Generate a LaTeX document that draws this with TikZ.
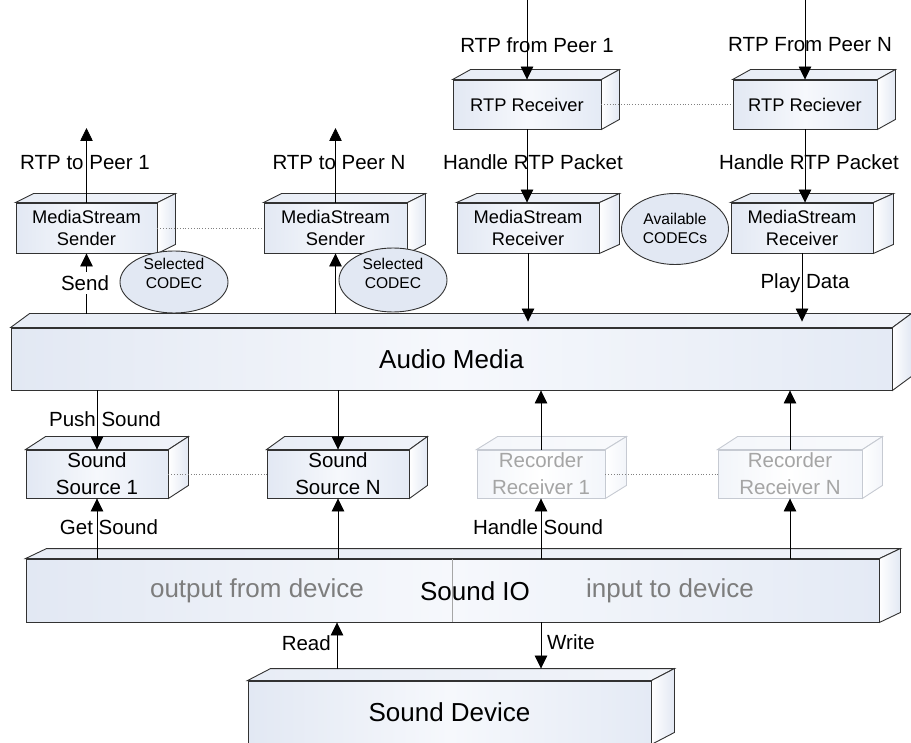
\documentclass[tikz,border=0pt]{standalone}
\usepackage{fontspec}
\setmainfont{Liberation Sans}
\usetikzlibrary{arrows.meta,shapes.geometric}

\definecolor{edge}{RGB}{50,50,50}
\definecolor{faceL}{RGB}{226,232,243}
\definecolor{faceM}{RGB}{246,248,252}
\definecolor{faceR}{RGB}{228,234,245}
\definecolor{topL}{RGB}{232,237,246}
\definecolor{topR}{RGB}{240,243,249}
\definecolor{paleedge}{RGB}{198,202,210}
\definecolor{paletext}{RGB}{165,165,165}
\definecolor{iotext}{RGB}{125,125,125}
\definecolor{ovalfill}{RGB}{226,232,243}

\newcommand{\fsz}[2]{\fontsize{#1}{#2}\selectfont}

\begin{document}
\begin{tikzpicture}[x=1pt,y=-1pt,
  front/.style={draw=edge, line width=0.9pt, left color=faceL, right color=faceR, middle color=faceM,
                align=center, inner sep=0pt, text=black},
  smalltxt/.style={font=\fsz{18.3}{22}},
  bigtxt/.style={font=\fsz{20.5}{27}},
  hugetxt/.style={font=\fsz{26}{30}},
  palebox/.style={front, draw=paleedge, text=paletext, left color=faceL!45!white, right color=faceR!45!white, middle color=white},
  topface/.style={draw=edge, line width=0.9pt, left color=topL, right color=topR},
  sideface/.style={draw=edge, line width=0.9pt, left color=white, right color=faceL},
  paletop/.style={draw=paleedge, line width=0.9pt, left color=topL!45!white, right color=topR!45!white},
  paleside/.style={draw=paleedge, line width=0.9pt, left color=white, right color=faceL!45!white},
  link/.style={draw=black, line width=0.8pt, -{Triangle[length=13pt,width=12.5pt]}},
  dots/.style={draw=gray, dotted, line width=0.8pt},
  lbl/.style={font=\fsz{20.5}{24}, inner sep=1pt},
  oval/.style={ellipse, draw=edge, line width=0.9pt, fill=ovalfill, inner sep=0pt},
  ovaltxt/.style={font=\fsz{15.6}{19}, align=center, inner sep=0pt},
  iotxt/.style={font=\fsz{26}{30}, inner sep=0pt},
]
\useasboundingbox (0,0) rectangle (911,743);
\clip (0,0) rectangle (911,743);

% ---- front faces of the 3-D boxes ----
\node[front, smalltxt, minimum width=141, minimum height=50] (snd1) at (86.5,228) {MediaStream\\Sender};
\node[front, smalltxt, minimum width=143, minimum height=50] (sndN) at (335.5,228) {MediaStream\\Sender};
\node[front, smalltxt, minimum width=148, minimum height=49] (rtp1) at (527,104.5) {RTP Receiver};
\node[front, smalltxt, minimum width=144, minimum height=49] (rtpN) at (805,104.5) {RTP Reciever};
\node[front, smalltxt, minimum width=142, minimum height=50] (rcv1) at (528,228) {MediaStream\\Receiver};
\node[front, smalltxt, minimum width=142, minimum height=50] (rcvN) at (802,228) {MediaStream\\Receiver};
\node[front, hugetxt, minimum width=881, minimum height=62] (audio) at (451.5,359) {Audio Media};
\node[front, bigtxt, minimum width=142, minimum height=48] (src1) at (97,474) {Sound\\Source 1};
\node[front, bigtxt, minimum width=142, minimum height=48] (srcN) at (338,474) {Sound\\Source N};
\node[palebox, bigtxt, minimum width=128, minimum height=48] (rec1) at (541,474) {Recorder\\Receiver 1};
\node[palebox, bigtxt, minimum width=144, minimum height=48] (recN) at (790,474) {Recorder\\Receiver N};
\node[front, minimum width=853, minimum height=63] (sio) at (452.5,590.5) {};
\node[front, hugetxt, minimum width=403, minimum height=63] (dev) at (449.5,712.5) {Sound Device};

% ---- top and right faces ----
\foreach \n/\dx/\dy in {snd1/18/9, sndN/18/9, rtp1/18/10, rtpN/18/10, rcv1/20/9, rcvN/20/9,
                         audio/19/14, src1/20/13, srcN/18/13, sio/21/10, dev/23/12} {
  \path[topface] (\n.north west) -- ++(\dx,-\dy) -- ([shift={(\dx,-\dy)}]\n.north east) -- (\n.north east) -- cycle;
  \path[sideface] (\n.north east) -- ++(\dx,-\dy) -- ([shift={(\dx,-\dy)}]\n.south east) -- (\n.south east) -- cycle;
}
\foreach \n/\dx/\dy in {rec1/21/13, recN/20/13} {
  \path[paletop] (\n.north west) -- ++(\dx,-\dy) -- ([shift={(\dx,-\dy)}]\n.north east) -- (\n.north east) -- cycle;
  \path[paleside] (\n.north east) -- ++(\dx,-\dy) -- ([shift={(\dx,-\dy)}]\n.south east) -- (\n.south east) -- cycle;
}

% ---- Sound IO halves ----
\draw[draw=gray!70, line width=0.8pt] (sio.north) -- (sio.south);
\node[iotxt, text=iotext] (outdev) at (257,591) {output from device};
\node[iotxt] (siot) at (475,591) {Sound IO};
\node[iotxt, text=iotext] (indev) at (670,591) {input to device};

% ---- CODEC ovals ----
\node[oval, minimum width=108, minimum height=62] (sel1) at (174,282) {};
\node[ovaltxt] (sel1t) at (174,273) {Selected\\CODEC};
\node[oval, minimum width=108, minimum height=64] (sel2) at (393,280) {};
\node[ovaltxt] (sel2t) at (393,273) {Selected\\CODEC};
\node[oval, minimum width=107, minimum height=71] (avail) at (675,229) {};
\node[ovaltxt] (availt) at (675,228) {Available\\CODECs};

% ---- dotted links between parallel boxes ----
\draw[dots] (snd1.east) -- (sndN.west);
\draw[dots] (rtp1.east) -- (rtpN.west);
\draw[dots] (src1.east) -- (srcN.west);
\draw[dots] (rec1.east) -- (recN.west);

% ---- helper coordinates ----
\coordinate (in1) at (527,0);
\coordinate (inN) at (805,0);
\coordinate (outy) at (0,128);
\coordinate (aback) at ([yshift=14pt]audio.north);
\coordinate (atip) at ([yshift=6pt]audio.north);
\coordinate (dback) at ([yshift=12pt]dev.north);
\coordinate (rdx) at (337,0);
\coordinate (wrx) at (541,0);

% ---- data flow ----
\draw[link] (in1) -- (rtp1.north);
\draw[link] (inN) -- (rtpN.north);
\draw[link] (rtp1.south) -- (rtp1.south |- rcv1.north);
\draw[link] (rtpN.south) -- (rtpN.south |- rcvN.north);
\draw[link] (snd1.north) -- (snd1.north |- outy);
\draw[link] (sndN.north) -- (sndN.north |- outy);
\draw[link] (snd1.south |- aback) -- (snd1.south);
\draw[link] (sndN.south |- aback) -- (sndN.south);
\draw[link] (rcv1.south) -- (rcv1.south |- atip);
\draw[link] (rcvN.south) -- (rcvN.south |- atip);
\draw[link] (src1.north |- audio.south) -- (src1.north);
\draw[link] (srcN.north |- audio.south) -- (srcN.north);
\draw[link] (rec1.north) -- (rec1.north |- audio.south);
\draw[link] (recN.north) -- (recN.north |- audio.south);
\draw[link] (src1.south |- sio.north) -- (src1.south);
\draw[link] (srcN.south |- sio.north) -- (srcN.south);
\draw[link] (rec1.south |- sio.north) -- (rec1.south);
\draw[link] (recN.south |- sio.north) -- (recN.south);
\draw[link] (rdx |- dback) -- (rdx |- sio.south);
\draw[link] (wrx |- sio.south) -- (wrx |- dback);

% ---- connector labels ----
\node[lbl] (l1) at (85,163) {RTP to Peer 1};
\node[lbl] (l2) at (339,163) {RTP to Peer N};
\node[lbl] (l3) at (537,45) {RTP from Peer 1};
\node[lbl] (l4) at (810,45) {RTP From Peer N};
\node[lbl] (l5) at (533,162) {Handle RTP Packet};
\node[lbl] (l6) at (809,162) {Handle RTP Packet};
\node[lbl, fill=white, inner sep=3pt] (l7) at (85,283) {Send};
\node[lbl] (l8) at (805,283) {Play Data};
\node[lbl] (l9) at (105,419) {Push Sound};
\node[lbl] (l10) at (109,527) {Get Sound};
\node[lbl] (l11) at (538,527) {Handle Sound};
\node[lbl, anchor=east] (l12) at (332,643) {Read};
\node[lbl, anchor=west] (l13) at (546,642) {Write};
\end{tikzpicture}
\end{document}
